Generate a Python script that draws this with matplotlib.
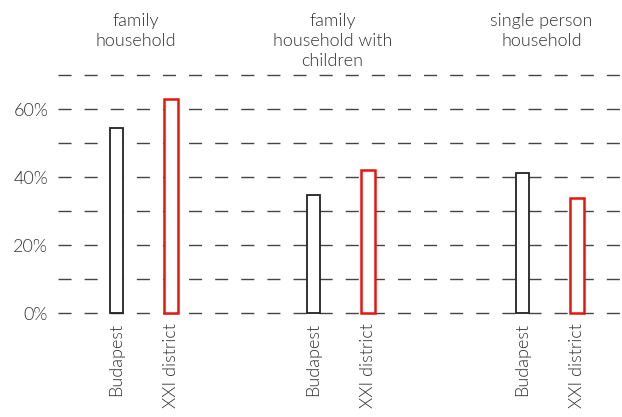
import numpy as np
import matplotlib
matplotlib.use("Agg")
import matplotlib.pyplot as plt

# household type shares, Budapest vs XXI district (%)
groups = ["family\nhousehold", "family\nhousehold with\nchildren", "single person\nhousehold"]
series = ["Budapest", "XXI district"]
budapest = [54.3, 34.8, 41.3]
district = [62.8, 42.2, 33.9]
colors = ["#222222", "#e8150f"]

plt.rcParams["font.family"] = ["Lato", "DejaVu Sans"]
text_color = "#333333"
fw = 300
fs = 13

fig = plt.figure(figsize=(6.22, 4.17), dpi=100)
ax = fig.add_axes([0.0932, 0.2494, 0.9068, 0.5707])

group_pos = np.array([0.0, 0.97, 2.0])
offset = 0.135
width = 0.066

# dashed grid every 10%
grid_vals = np.arange(0, 71, 10)
ax.hlines(grid_vals, -0.4224, 2.3559, colors="#444444", lw=1,
          linestyles=(0, (9.4, 9.4)), zorder=1, clip_on=False)

xs, labels = [], []
for vals, col, sgn, name in zip([budapest, district], colors, [-1, 1], series):
    x = group_pos + sgn * offset
    ax.bar(x, vals, width=width, facecolor="white", edgecolor=col,
           linewidth=1.3 if sgn < 0 else 1.8, zorder=2, clip_on=False)
    xs.extend(x)
    labels.extend([name] * len(x))

for gx, g in zip(group_pos, groups):
    ax.text(gx - 0.04, 1.262, g, transform=ax.get_xaxis_transform(),
            ha="center", va="top", fontsize=fs, fontweight=fw,
            color=text_color, linespacing=1.32)

ax.set_xlim(-0.4224, 2.3559)
ax.set_ylim(0, 70)
ax.set_yticks([0, 20, 40, 60])
ax.set_yticklabels([f"{v}%" for v in [0, 20, 40, 60]])
ax.set_xticks(xs)
ax.set_xticklabels(labels, rotation=90, va="top", ha="center")
ax.tick_params(length=0, labelsize=fs, labelcolor=text_color)
ax.tick_params(axis="y", pad=7)
ax.tick_params(axis="x", pad=7)
for lab in ax.get_xticklabels() + ax.get_yticklabels():
    lab.set_fontweight(fw)
for s in ax.spines.values():
    s.set_visible(False)

fig.savefig("out.png", dpi=100)
